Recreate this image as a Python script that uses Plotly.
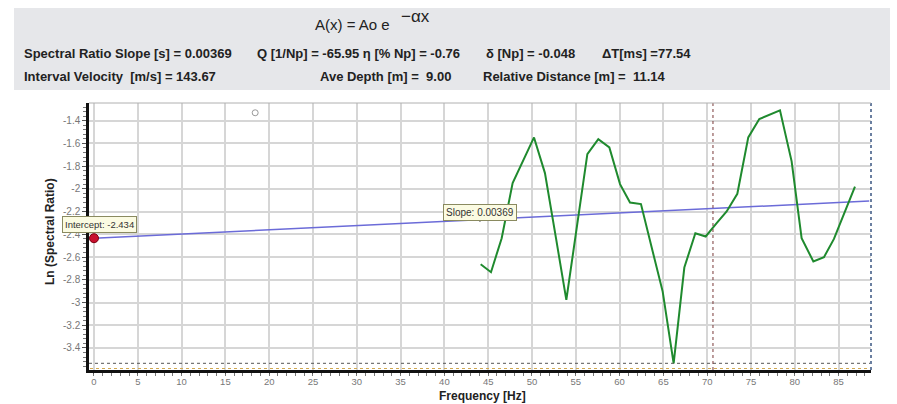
import plotly.graph_objects as go

W, H = 897, 404

# ---- data ----
freq = [44.14, 45.32, 46.54, 47.79, 50.23, 51.48, 52.74, 53.92, 56.32, 57.57, 58.83,
        60.05, 61.19, 62.44, 63.78, 64.92, 66.17, 67.39, 68.65, 69.83, 71.08, 72.22,
        73.44, 74.69, 75.95, 78.31, 79.64, 80.78, 82.12, 83.33, 84.47, 86.87]
ln_ratio = [-2.663, -2.733, -2.434, -1.949, -1.547, -1.861, -2.434, -2.977, -1.694,
            -1.562, -1.635, -1.958, -2.120, -2.134, -2.551, -2.904, -3.535, -2.692,
            -2.390, -2.419, -2.302, -2.199, -2.043, -1.547, -1.385, -1.309, -1.758,
            -2.434, -2.639, -2.601, -2.440, -1.979]
fit_x = [0.0, 88.5]
fit_y = [-2.434, -2.107]
intercept_x = [0.0]
intercept_y = [-2.434]
slope_mark_x = [44.06]
slope_mark_y = [-2.27]
circle_x = [18.4]
circle_y = [-1.33]
cursor_x = 70.66
floor_y = -3.535
x_ticks = list(range(0, 90, 5))
y_ticks = [-1.4, -1.6, -1.8, -2.0, -2.2, -2.4, -2.6, -2.8, -3.0, -3.2, -3.4]
y_tick_text = ["-1.4", "-1.6", "-1.8", "-2", "-2.2", "-2.4", "-2.6", "-2.8", "-3", "-3.2", "-3.4"]

header_line2 = ["Spectral Ratio Slope [s] = 0.00369", "Q [1/Np] = -65.95 \u03b7 [% Np] = -0.76",
                "\u03b4 [Np] = -0.048", "\u0394T[ms] =77.54"]
header_line3 = ["Interval Velocity  [m/s] = 143.67", "Ave Depth [m] =  9.00",
                "Relative Distance [m] =  11.14"]


def px(p):
    return p / W


def py(p):
    return 1 - p / H


fig = go.Figure()

fig.add_trace(go.Scatter(x=fit_x, y=fit_y, mode="lines",
                         line=dict(color="#6b6bd8", width=1.5), hoverinfo="skip"))
fig.add_trace(go.Scatter(x=freq, y=ln_ratio, mode="lines",
                         line=dict(color="#1f8a2e", width=2), hoverinfo="skip"))
fig.add_trace(go.Scatter(x=intercept_x, y=intercept_y, mode="markers",
                         marker=dict(color="#c8102e", size=9, line=dict(color="#7a0010", width=1)),
                         cliponaxis=False, hoverinfo="skip"))
fig.add_trace(go.Scatter(x=slope_mark_x, y=slope_mark_y, mode="markers",
                         marker=dict(color="#333333", size=5, symbol="triangle-down"),
                         hoverinfo="skip"))
fig.add_trace(go.Scatter(x=circle_x, y=circle_y, mode="markers",
                         marker=dict(color="rgba(0,0,0,0)", size=6, line=dict(color="#9a9a9a", width=1)),
                         hoverinfo="skip"))

font_ui = "Liberation Sans Narrow, Liberation Sans, Arial"

shapes = [
    # header panel
    dict(type="rect", xref="paper", yref="paper", x0=px(14), x1=px(890), y0=py(90), y1=py(8),
         fillcolor="#e6e7ea", line=dict(width=0), layer="below"),
    # floor dotted line
    dict(type="line", xref="x", yref="y", x0=-0.57, x1=88.7, y0=floor_y, y1=floor_y,
         line=dict(color="#555555", width=1, dash="dot")),
    # bottom orange dashed line
    dict(type="line", xref="paper", yref="paper", x0=px(90), x1=px(871), y0=py(368.5), y1=py(368.5),
         line=dict(color="#d0a850", width=1, dash="dot")),
    # vertical cursor
    dict(type="line", xref="x", yref="paper", x0=cursor_x, x1=cursor_x, y0=py(370), y1=py(103),
         line=dict(color="#7a3a3a", width=1, dash="dot")),
    # right border dotted
    dict(type="line", xref="paper", yref="paper", x0=px(871), x1=px(871), y0=py(370), y1=py(103),
         line=dict(color="#6a7fa0", width=2, dash="dot")),
    # top border
    dict(type="line", xref="paper", yref="paper", x0=px(89), x1=px(871), y0=py(103), y1=py(103),
         line=dict(color="#b0b0b0", width=1)),
]

annotations = [
    dict(text="A(x) = Ao e", x=px(313), y=py(24), xref="paper", yref="paper",
         xanchor="left", yanchor="middle", showarrow=False,
         font=dict(family="Liberation Sans, Arial", size=15, color="#222222")),
    dict(text="\u2212\u03b1x", x=px(399), y=py(16), xref="paper", yref="paper",
         xanchor="left", yanchor="middle", showarrow=False,
         font=dict(family="Liberation Sans, Arial", size=17, color="#222222")),
]
line2_x = [22, 255, 484, 600]
for t, xx in zip(header_line2, line2_x):
    annotations.append(dict(text="<b>" + t + "</b>", x=px(xx), y=py(53), xref="paper", yref="paper",
                            xanchor="left", yanchor="middle", showarrow=False,
                            font=dict(family=font_ui, size=13, color="#222222")))
line3_x = [22, 318, 481]
for t, xx in zip(header_line3, line3_x):
    annotations.append(dict(text="<b>" + t + "</b>", x=px(xx), y=py(77), xref="paper", yref="paper",
                            xanchor="left", yanchor="middle", showarrow=False,
                            font=dict(family=font_ui, size=13, color="#222222")))

annotations += [
    dict(text="Intercept: -2.434", x=px(62), y=py(224.5), xref="paper", yref="paper",
         xanchor="left", yanchor="middle", showarrow=False,
         font=dict(family="Liberation Sans, Arial", size=9.5, color="#333333"),
         bgcolor="#fbfbe2", bordercolor="#8a8a60", borderwidth=1, borderpad=2),
    dict(text="Slope: 0.00369", x=px(443), y=py(212), xref="paper", yref="paper",
         xanchor="left", yanchor="middle", showarrow=False,
         font=dict(family="Liberation Sans, Arial", size=10, color="#333333"),
         bgcolor="#fbfbe2", bordercolor="#8a8a60", borderwidth=1, borderpad=2),
    dict(text="<b>Frequency [Hz]</b>", x=px(482), y=py(395.5), xref="paper", yref="paper",
         xanchor="center", yanchor="middle", showarrow=False,
         font=dict(family="Liberation Sans, Arial", size=12, color="#222222")),
    dict(text="<b>Ln (Spectral Ratio)</b>", x=px(50), y=py(232), xref="paper", yref="paper",
         xanchor="center", yanchor="middle", showarrow=False, textangle=-90,
         font=dict(family="Liberation Sans, Arial", size=12, color="#222222")),
]

fig.update_layout(
    width=W, height=H, autosize=False,
    margin=dict(l=0, r=0, t=0, b=0),
    paper_bgcolor="white", plot_bgcolor="white",
    showlegend=False,
    shapes=shapes, annotations=annotations,
    xaxis=dict(domain=[px(89), px(871)], range=[-0.57, 88.7],
               tickvals=x_ticks, ticktext=[str(v) for v in x_ticks],
               showgrid=True, gridcolor="#d6d6d6", gridwidth=1.5,
               showline=True, linecolor="#111111", linewidth=2.5,
               ticks="outside", ticklen=1, tickcolor="#555555",
               minor=dict(dtick=1, ticks="outside", ticklen=3, tickcolor="#777777", showgrid=False),
               tickfont=dict(family="Liberation Sans, Arial", size=9.5, color="#777777"),
               zeroline=False, fixedrange=True),
    yaxis=dict(domain=[py(370), py(103)], range=[-3.594, -1.244],
               tickvals=y_ticks, ticktext=y_tick_text,
               showgrid=True, gridcolor="#d6d6d6", gridwidth=1.5,
               showline=True, linecolor="#111111", linewidth=2.5,
               ticks="outside", ticklen=4, tickcolor="#555555",
               minor=dict(dtick=0.04, ticks="outside", ticklen=3, tickcolor="#777777", showgrid=False),
               tickfont=dict(family="Liberation Sans, Arial", size=10, color="#777777"),
               zeroline=False, fixedrange=True),
)

fig.write_html("out.html", config={"displayModeBar": False},
               post_script="document.body.style.margin='0px';document.body.style.overflow='hidden';")
